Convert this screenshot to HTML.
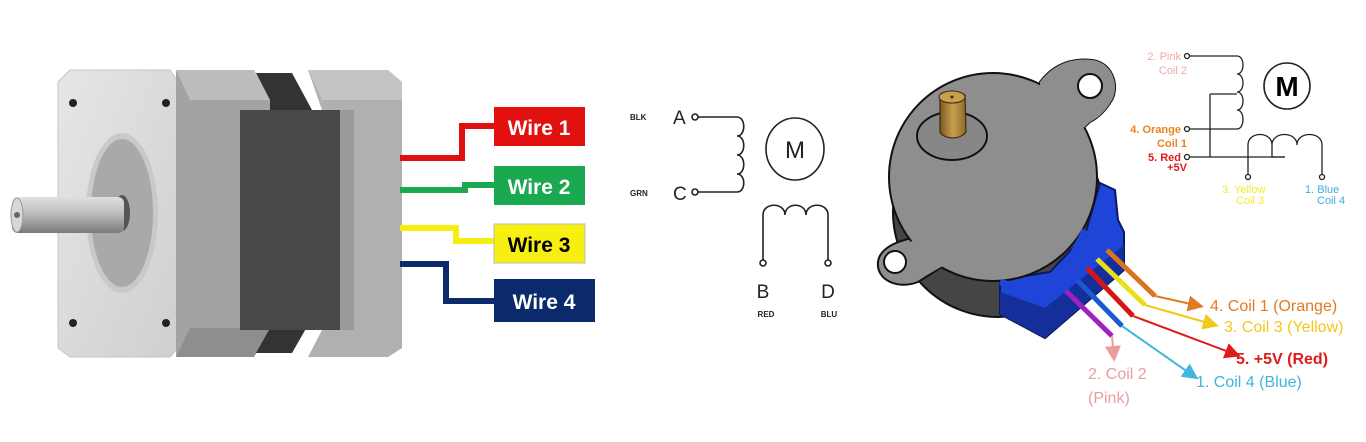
<!DOCTYPE html>
<html><head><meta charset="utf-8"><style>
html,body{margin:0;padding:0;background:#fff;}
svg{display:block}
text{font-family:"Liberation Sans",sans-serif;}
</style></head><body>
<svg width="1366" height="442" viewBox="0 0 1366 442" xmlns="http://www.w3.org/2000/svg">
<defs>
<linearGradient id="shaft" x1="0" y1="0" x2="0" y2="1">
<stop offset="0" stop-color="#e0e0e0"/><stop offset="0.45" stop-color="#bdbdbd"/><stop offset="1" stop-color="#7a7a7a"/></linearGradient>
<linearGradient id="plate" x1="0" y1="0" x2="1" y2="1">
<stop offset="0" stop-color="#e6e6e6"/><stop offset="1" stop-color="#cfcfcf"/></linearGradient>
<linearGradient id="brass" x1="0" y1="0" x2="1" y2="0">
<stop offset="0" stop-color="#7a5a20"/><stop offset="0.5" stop-color="#c9a050"/><stop offset="1" stop-color="#8a6a28"/></linearGradient>
<marker id="ao" markerWidth="8" markerHeight="8" refX="6" refY="4" orient="auto"><path d="M0,0 L8,4 L0,8z" fill="#e07b22"/></marker>
<marker id="ay" markerWidth="8" markerHeight="8" refX="6" refY="4" orient="auto"><path d="M0,0 L8,4 L0,8z" fill="#f2c81a"/></marker>
<marker id="ar" markerWidth="8" markerHeight="8" refX="6" refY="4" orient="auto"><path d="M0,0 L8,4 L0,8z" fill="#e01b1b"/></marker>
<marker id="ab" markerWidth="8" markerHeight="8" refX="6" refY="4" orient="auto"><path d="M0,0 L8,4 L0,8z" fill="#3fb6dc"/></marker>
<marker id="ap" markerWidth="8" markerHeight="8" refX="6" refY="4" orient="auto"><path d="M0,0 L8,4 L0,8z" fill="#ec9c9c"/></marker>
</defs>

<!-- LEFT MOTOR -->
<polygon points="58,82 70,70 170,70 178,82 178,348 170,357 70,357 58,348" fill="url(#plate)" stroke="#c4c4c4"/>
<ellipse cx="122" cy="213" rx="36" ry="80" fill="#c9c9c9"/>
<ellipse cx="122" cy="213" rx="31" ry="74" fill="#a9a9a9"/>
<ellipse cx="122" cy="213" rx="8" ry="18" fill="#555"/>
<circle cx="73" cy="103" r="4" fill="#222"/><circle cx="166" cy="103" r="4" fill="#222"/>
<circle cx="73" cy="323" r="4" fill="#222"/><circle cx="166" cy="323" r="4" fill="#222"/>
<rect x="12" y="197" width="112" height="36" rx="6" fill="url(#shaft)"/>
<ellipse cx="17" cy="215" rx="6" ry="17" fill="#d8d8d8" stroke="#999"/>
<circle cx="17" cy="215" r="3" fill="#666"/>
<polygon points="176,70 254,70 270,100 270,328 254,357 176,357" fill="#a3a3a3"/>
<polygon points="176,70 254,70 270,100 190,100" fill="#bcbcbc"/>
<polygon points="176,357 254,357 270,328 190,328" fill="#8e8e8e"/>
<polygon points="256,73 292,73 312,110 312,318 292,353 256,353 270,328 270,100" fill="#333"/>
<rect x="240" y="110" width="100" height="220" fill="#484848"/>
<polygon points="308,70 388,70 402,82 402,348 388,357 308,357 322,330 340,330 340,110 322,110" fill="#b0b0b0"/>
<polygon points="308,70 388,70 402,82 402,100 322,100" fill="#c4c4c4"/>
<rect x="340" y="110" width="14" height="220" fill="#9a9a9a"/>
<polyline points="400,158 462,158 462,126 494,126" fill="none" stroke="#e01010" stroke-width="6"/>
<polyline points="400,190 465,190 465,185 494,185" fill="none" stroke="#1aa850" stroke-width="6"/>
<polyline points="400,228 456,228 456,241 494,241" fill="none" stroke="#f5ee10" stroke-width="6"/>
<polyline points="400,264 446,264 446,301 494,301" fill="none" stroke="#0b2a6b" stroke-width="6"/>
<rect x="494" y="107" width="91" height="39" fill="#e31010"/>
<text x="539" y="135" font-size="21" font-weight="bold" fill="#fff" text-anchor="middle">Wire 1</text>
<rect x="494" y="166" width="91" height="39" fill="#1aa850"/>
<text x="539" y="194" font-size="21" font-weight="bold" fill="#fff" text-anchor="middle">Wire 2</text>
<rect x="494" y="224" width="91" height="39" fill="#f7ef10" stroke="#bbb"/>
<text x="539" y="252" font-size="21" font-weight="bold" fill="#000" text-anchor="middle">Wire 3</text>
<rect x="494" y="279" width="101" height="43" fill="#0b2a6b"/>
<text x="544" y="309" font-size="21" font-weight="bold" fill="#fff" text-anchor="middle">Wire 4</text>

<!-- MIDDLE SCHEMATIC -->
<g fill="none" stroke="#222" stroke-width="1.6">
<circle cx="695" cy="117" r="3"/><circle cx="695" cy="192" r="3"/>
<path d="M698,117 H737 C746,117 746,136 737,136 C746,136 746,155 737,155 C746,155 746,174 737,174 C746,174 746,192 737,192 H698"/>
<ellipse cx="795" cy="149" rx="29" ry="31"/>
<path d="M763,260 V215 C763,202 785,202 785,215 C785,202 806,202 806,215 C806,202 828,202 828,215 V260"/>
<circle cx="763" cy="263" r="3"/><circle cx="828" cy="263" r="3"/>
</g>
<g fill="#222">
<text x="630" y="120" font-size="8" font-weight="bold" font-family="Liberation Serif">BLK</text>
<text x="630" y="196" font-size="8" font-weight="bold" font-family="Liberation Serif">GRN</text>
<text x="673" y="124" font-size="19">A</text>
<text x="673" y="200" font-size="19">C</text>
<text x="795" y="158" font-size="24" text-anchor="middle">M</text>
<text x="763" y="298" font-size="19" text-anchor="middle">B</text>
<text x="828" y="298" font-size="19" text-anchor="middle">D</text>
<text x="766" y="317" font-size="8" font-weight="bold" font-family="Liberation Serif" text-anchor="middle">RED</text>
<text x="829" y="317" font-size="8" font-weight="bold" font-family="Liberation Serif" text-anchor="middle">BLU</text>
</g>

<!-- RIGHT MOTOR -->
<circle cx="998" cy="212" r="105" fill="#454545" stroke="#111" stroke-width="2"/>
<!-- blue connector -->
<polygon points="1000,280 1050,272 1085,235 1100,183 1115,190 1118,220 1124,232 1124,270 1045,338 1000,314" fill="#1f44d8" stroke="#0a1a60" stroke-width="2"/>
<polygon points="1000,292 1045,308 1124,245 1124,270 1045,338 1000,314" fill="#142e9a"/>
<!-- gray top face with ears -->
<g fill="#8e8e8e" stroke="#111" stroke-width="2">
<path d="M1040,82 C1055,62 1075,58 1092,60 C1112,62 1120,85 1112,100 C1105,112 1098,118 1090,122 L1070,140 Z"/>
<path d="M930,235 C905,238 880,245 878,262 C876,280 898,290 918,282 L950,262 Z"/>
<circle cx="993" cy="177" r="104"/>
</g>
<path d="M1040,82 C1055,62 1075,58 1092,60 C1112,62 1120,85 1112,100 C1105,112 1098,118 1090,122 L1070,140 L1040,95Z" fill="#8e8e8e"/>
<path d="M930,240 C905,240 882,247 880,262 C878,278 898,288 918,280 L950,262 L935,245Z" fill="#8e8e8e"/>
<path d="M1085,230 L1057,285 L1040,292 L1000,282" fill="none" stroke="#1f44d8" stroke-width="6"/>
<circle cx="1090" cy="86" r="12" fill="#fff" stroke="#111" stroke-width="2"/>
<circle cx="895" cy="262" r="11" fill="#fff" stroke="#111" stroke-width="2"/>
<ellipse cx="952" cy="136" rx="35" ry="24" fill="#878787" stroke="#111" stroke-width="2"/>
<path d="M940,98 L965,95 L966,132 C960,140 945,140 940,132 Z" fill="url(#brass)" stroke="#3a2a10" stroke-width="1.2"/>
<ellipse cx="952" cy="97" rx="13" ry="6" fill="#c9a050" stroke="#3a2a10"/>
<circle cx="952" cy="97" r="1.5" fill="#3a2a10"/>
<!-- wires -->
<g stroke-width="5">
<line x1="1107" y1="250" x2="1155" y2="296" stroke="#d9741c"/>
<line x1="1097" y1="259" x2="1145" y2="305" stroke="#e7e01a"/>
<line x1="1087" y1="268" x2="1133" y2="316" stroke="#d81515"/>
<line x1="1077" y1="280" x2="1122" y2="326" stroke="#1c58d0"/>
<line x1="1066" y1="291" x2="1112" y2="336" stroke="#a020c0"/>
</g>
<g fill="none" stroke-width="2">
<polyline points="1155,296 1200,306" stroke="#e07b22" marker-end="url(#ao)"/>
<polyline points="1145,305 1215,325" stroke="#f2c81a" marker-end="url(#ay)"/>
<polyline points="1133,316 1237,355" stroke="#e01b1b" marker-end="url(#ar)"/>
<polyline points="1122,326 1195,377" stroke="#3fb6dc" marker-end="url(#ab)"/>
<polyline points="1112,336 1114,358" stroke="#ec9c9c" marker-end="url(#ap)"/>
</g>
<g font-size="16">
<text x="1210" y="311" fill="#e07b22">4. Coil 1 (Orange)</text>
<text x="1224" y="332" fill="#f2c81a">3. Coil 3 (Yellow)</text>
<text x="1236" y="364" fill="#e01b1b" font-weight="bold">5. +5V (Red)</text>
<text x="1196" y="387" fill="#3fb6dc">1. Coil 4 (Blue)</text>
<text x="1088" y="379" fill="#ec9c9c">2. Coil 2</text>
<text x="1088" y="403" fill="#ec9c9c">(Pink)</text>
</g>
<!-- right schematic -->
<g fill="none" stroke="#222" stroke-width="1.3">
<circle cx="1187" cy="56" r="2.5"/><circle cx="1187" cy="129" r="2.5"/><circle cx="1187" cy="157" r="2.5"/>
<path d="M1190,56 H1237 C1245,56 1245,74 1237,74 C1245,74 1245,92 1237,92 C1245,92 1245,110 1237,110 C1245,110 1245,129 1237,129 H1190"/>
<path d="M1210,94 H1237 M1210,94 V157 M1190,157 H1285"/>
<path d="M1248,174 V145 C1248,131 1272,131 1272,145 C1272,131 1297,131 1297,145 C1297,131 1322,131 1322,145 V174"/>
<path d="M1272,145 V157 H1285"/>
<circle cx="1248" cy="177" r="2.5"/><circle cx="1322" cy="177" r="2.5"/>
<circle cx="1287" cy="86" r="23" stroke-width="1.6"/>
</g>
<text x="1287" y="96" font-size="28" font-weight="bold" text-anchor="middle" fill="#000">M</text>
<g font-size="11">
<text x="1181" y="60" fill="#f0a8a8" text-anchor="end">2. Pink</text>
<text x="1187" y="74" fill="#f0a8a8" text-anchor="end">Coil 2</text>
<text x="1181" y="133" fill="#e8841e" text-anchor="end" font-weight="bold">4. Orange</text>
<text x="1187" y="147" fill="#e8841e" text-anchor="end" font-weight="bold">Coil 1</text>
<text x="1181" y="161" fill="#e01b1b" text-anchor="end" font-weight="bold">5. Red</text>
<text x="1187" y="171" fill="#e01b1b" text-anchor="end" font-weight="bold">+5V</text>
<text x="1222" y="193" fill="#f5ea30">3. Yellow</text>
<text x="1236" y="204" fill="#f5ea30">Coil 3</text>
<text x="1305" y="193" fill="#3aaee0">1. Blue</text>
<text x="1317" y="204" fill="#3aaee0">Coil 4</text>
</g>
</svg>
</body></html>
